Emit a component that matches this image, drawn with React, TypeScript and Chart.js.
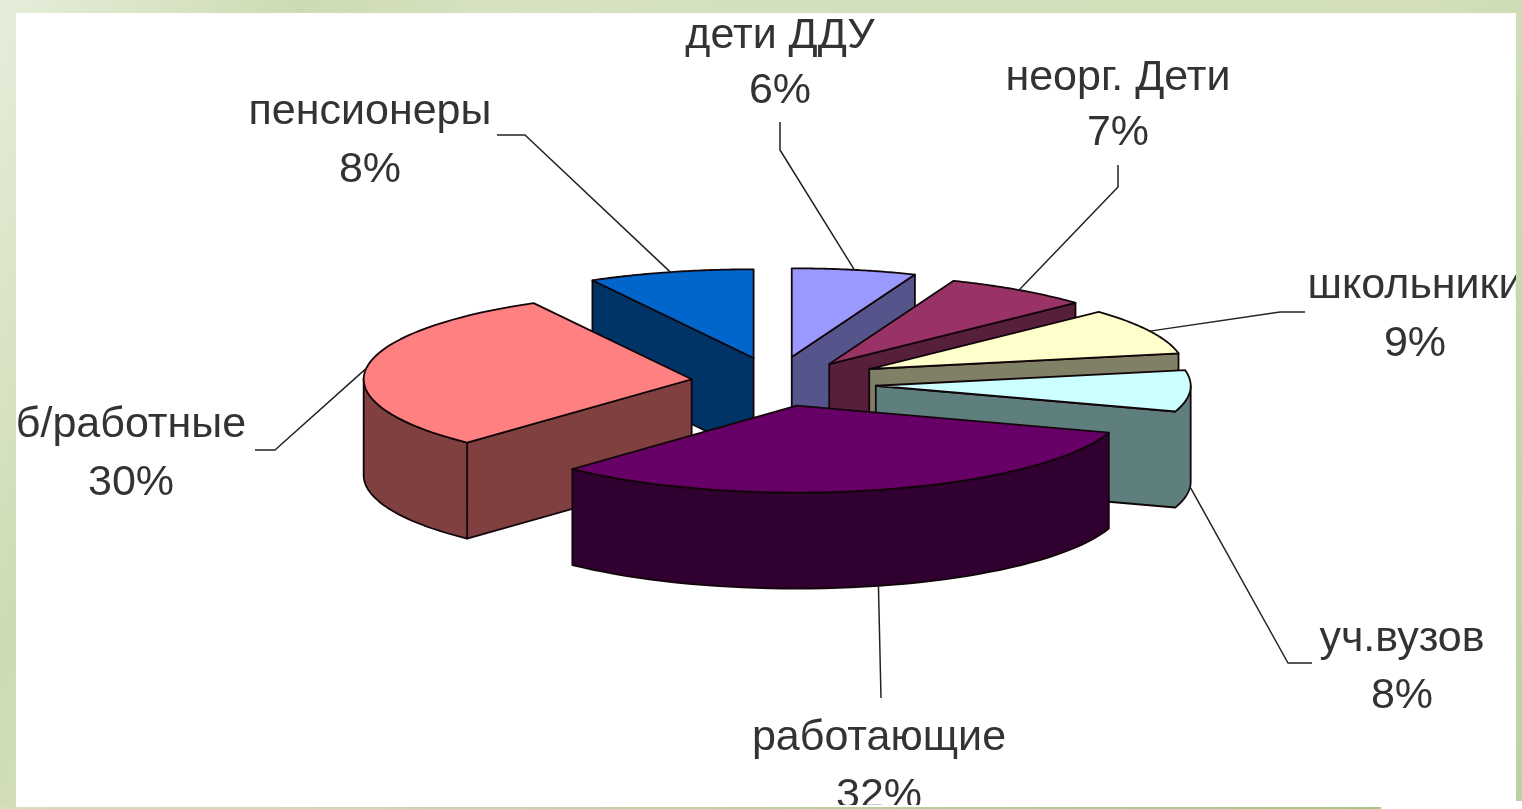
import React, { useEffect, useRef } from "react";
import { Chart, registerables } from "chart.js";

Chart.register(...registerables);

const categories = ["дети ДДУ", "неорг. Дети", "школьники", "уч.вузов", "работающие", "б/работные", "пенсионеры"];
const shares = [6, 7, 9, 8, 32, 30, 8];

const topColors = ["#9999ff", "#993366", "#ffffcc", "#ccffff", "#660066", "#ff8080", "#0066cc"];
const wallColors = ["#55558c", "#561f3a", "#808066", "#5f7f7f", "#300030", "#804040", "#003366"];

// Layout of the fake 3D view (canvas is placed at 16,14)
const ORIGIN = { x: 16, y: 14 };
const CENTER = { x: 772 - ORIGIN.x, y: 380 - ORIGIN.y };
const SQUASH = 0.265;
const DEPTH = 96;
const RADIUS = 328;
const explode = [100, 100, 108, 104, 100, 83, 78];
const radialScale = [1.02, 1.03, 0.96, 0.96, 1, 1, 1.02];
const nudgeX = [1, 1, 1, 0, 0, 2, 1];
const nudgeY = [3, 6, 2, 4, 0, 2, -2];
const drawOrder = [6, 0, 1, 2, 3, 5, 4];
const leaderOnWall = [false, false, false, true, true, false, false];
// label anchor: centre x, first baseline, line gap, then polyline start points (page coordinates)
const labelBoxes = [
  { x: 780, y: 48, gap: 55, line: [[780, 122], [780, 150]] },
  { x: 1118, y: 90, gap: 55, line: [[1118, 165], [1118, 187]] },
  { x: 1415, y: 298, gap: 58, line: [[1305, 312], [1280, 312]] },
  { x: 1402, y: 651, gap: 57, line: [[1312, 663], [1288, 663]] },
  { x: 879, y: 750, gap: 58, line: [[881, 698]] },
  { x: 131, y: 437, gap: 58, line: [[255, 450], [275, 450]] },
  { x: 370, y: 124, gap: 58, line: [[497, 135], [525, 135]] },
];
const FONT = '43px "Liberation Sans", Arial, sans-serif';
const TEXT = "#333333";
const EDGE = "#12060a";

function geom(el: any, i: number) {
  const { startAngle, endAngle, outerRadius } = el.getProps(["startAngle", "endAngle", "outerRadius"], true);
  const mid = (startAngle + endAngle) / 2;
  const apex = {
    x: CENTER.x + Math.cos(mid) * explode[i] + nudgeX[i],
    y: CENTER.y + Math.sin(mid) * explode[i] * SQUASH + nudgeY[i],
  };
  const k = radialScale[i];
  const at = (a: number) => ({
    x: apex.x + Math.cos(a) * outerRadius * k,
    y: apex.y + Math.sin(a) * outerRadius * k * SQUASH,
  });
  return { startAngle, endAngle, mid, apex, k, at };
}

const pie3d = {
  id: "pie3d",
  beforeDatasetDraw(chart: any) {
    const ctx: CanvasRenderingContext2D = chart.ctx;
    const meta = chart.getDatasetMeta(0);
    const STEPS = 48;

    for (const i of drawOrder) {
      const el = meta.data[i];
      const g = geom(el, i);
      // perimeter: apex -> start -> arc -> end -> apex
      const arc: { x: number; y: number }[] = [];
      for (let s = 0; s <= STEPS; s++) {
        arc.push(g.at(g.startAngle + ((g.endAngle - g.startAngle) * s) / STEPS));
      }
      const perim = [g.apex, ...arc, g.apex];

      // walls: every run of edges heading left on the screen faces the viewer
      ctx.lineWidth = 1.8;
      ctx.strokeStyle = EDGE;
      ctx.lineJoin = "round";
      let run: { x: number; y: number }[] = [];
      const flush = () => {
        if (run.length < 2) {
          run = [];
          return;
        }
        ctx.beginPath();
        run.forEach((p, n) => (n ? ctx.lineTo(p.x, p.y) : ctx.moveTo(p.x, p.y)));
        for (let n = run.length - 1; n >= 0; n--) ctx.lineTo(run[n].x, run[n].y + DEPTH);
        ctx.closePath();
        ctx.fillStyle = wallColors[i];
        ctx.fill();
        ctx.stroke();
        run = [];
      };
      for (let n = 0; n < perim.length - 1; n++) {
        const p = perim[n];
        const q = perim[n + 1];
        const isArcBoundary = n === 0 || n === perim.length - 2;
        if (q.x < p.x - 1e-6) {
          if (!run.length) run.push(p);
          run.push(q);
          if (isArcBoundary) flush();
        } else {
          flush();
        }
      }
      flush();

      // top face: the library's own arc, drawn through the view transform
      ctx.save();
      ctx.translate(g.apex.x, g.apex.y);
      ctx.scale(g.k, g.k * SQUASH);
      ctx.translate(-el.x, -el.y);
      el.draw(ctx, chart.chartArea);
      ctx.restore();

      ctx.beginPath();
      perim.forEach((p, n) => (n ? ctx.lineTo(p.x, p.y) : ctx.moveTo(p.x, p.y)));
      ctx.closePath();
      ctx.stroke();
    }
    return false;
  },
  afterDatasetsDraw(chart: any) {
    const ctx: CanvasRenderingContext2D = chart.ctx;
    const meta = chart.getDatasetMeta(0);
    ctx.save();
    ctx.font = FONT;
    ctx.textAlign = "center";
    ctx.textBaseline = "alphabetic";
    categories.forEach((name, i) => {
      const g = geom(meta.data[i], i);
      const end = g.at(g.mid);
      const box = labelBoxes[i];
      ctx.beginPath();
      box.line.forEach(([x, y], n) => {
        const px = x - ORIGIN.x;
        const py = y - ORIGIN.y;
        n ? ctx.lineTo(px, py) : ctx.moveTo(px, py);
      });
      ctx.lineTo(end.x, end.y + (leaderOnWall[i] ? DEPTH : 0));
      ctx.strokeStyle = "#222";
      ctx.lineWidth = 1.5;
      ctx.stroke();
      ctx.fillStyle = TEXT;
      ctx.fillText(name, box.x - ORIGIN.x, box.y - ORIGIN.y);
      ctx.fillText(shares[i] + "%", box.x - ORIGIN.x, box.y - ORIGIN.y + box.gap);
    });
    ctx.restore();
  },
};

export default function App() {
  const ref = useRef<HTMLCanvasElement>(null);
  useEffect(() => {
    document.body.style.margin = "0";
    document.body.style.overflow = "hidden";
    const chart = new Chart(ref.current!, {
      type: "pie",
      data: {
        labels: categories,
        datasets: [{ data: shares, backgroundColor: topColors, borderWidth: 0, radius: RADIUS }],
      },
      options: {
        responsive: false,
        animation: false,
        layout: { padding: 0 },
        plugins: { legend: { display: false }, tooltip: { enabled: false }, title: { display: false } },
      },
      plugins: [pie3d],
    } as any);
    return () => chart.destroy();
  }, []);
  return (
    <div
      style={{
        position: "relative",
        width: 1522,
        height: 809,
        overflow: "hidden",
        background: "linear-gradient(115deg, #e6eedb 0%, #cddbb3 16%, #d5e1bf 25%, #d3e0bb 75%, #bcd2a0 100%)",
      }}
    >
      <div style={{ position: "absolute", left: 16, top: 13, width: 1500, height: 794, background: "#fff" }} />
      <div style={{ position: "absolute", left: 1381, top: 801, width: 141, height: 8, background: "#fff" }} />
      <canvas
        ref={ref}
        width={1500}
        height={791}
        style={{ position: "absolute", left: ORIGIN.x, top: ORIGIN.y, display: "block" }}
      />
      <div
        style={{
          position: "absolute",
          left: 0,
          top: 807,
          width: 1381,
          height: 2,
          background: "linear-gradient(90deg, #d5e1bf 0%, #a9c488 100%)",
        }}
      />
    </div>
  );
}
